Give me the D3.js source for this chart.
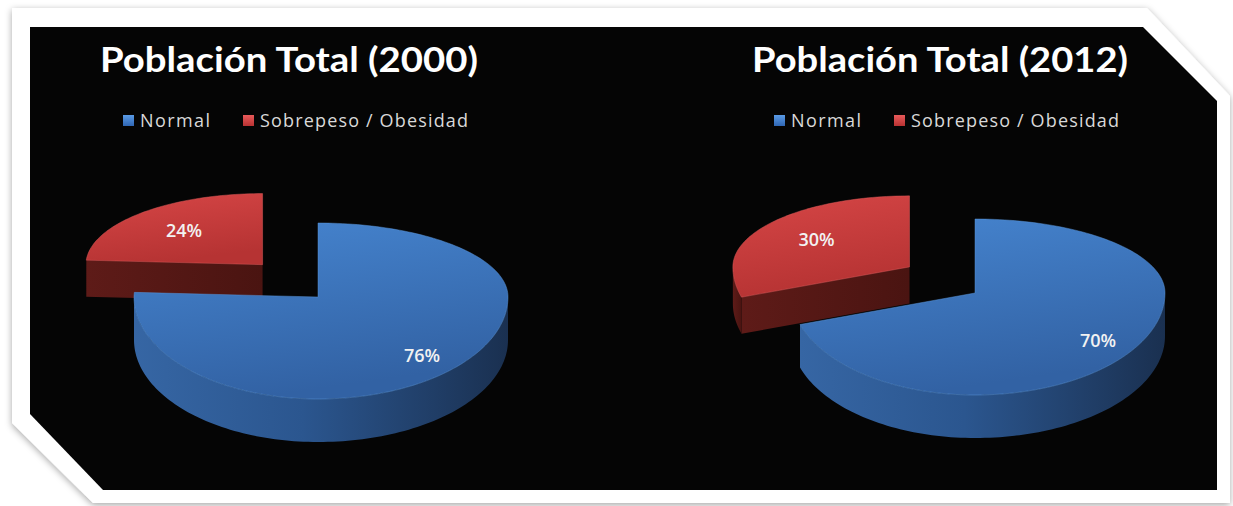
<!DOCTYPE html>
<html>
<head>
<meta charset="utf-8">
<script src="https://cdn.jsdelivr.net/npm/d3@7"></script>
<style>
  body { margin: 0; background: #ffffff; }
  svg { display: block; }
</style>
</head>
<body>
<svg id="chart" width="1233" height="506"></svg>
<script>
var categories = ["Normal", "Sobrepeso / Obesidad"];
var years = ["2000", "2012"];
var values2000 = [76, 24];
var values2012 = [70, 30];
var titleWidths = [378, 376];
var legendWidths = [70, 208];

//////////////////////////////////////////////////////////////////////////////

var svg = d3.select("#chart");
var defs = svg.append("defs");

var shadow = defs.append("filter").attr("id", "shadow")
  .attr("x", "-5%").attr("y", "-5%").attr("width", "110%").attr("height", "115%");
shadow.append("feDropShadow")
  .attr("dx", 0).attr("dy", 2)
  .attr("stdDeviation", 3.5)
  .attr("flood-color", "#000")
  .attr("flood-opacity", 0.35);

function addGradient(id, stops, x2, y2) {
  var g = defs.append("linearGradient").attr("id", id)
    .attr("x1", 0).attr("y1", 0).attr("x2", x2).attr("y2", y2);
  stops.forEach(function(s) {
    g.append("stop").attr("offset", s[0]).attr("stop-color", s[1]);
  });
}

addGradient("blueTop", [["0%", "#4685d0"], ["100%", "#3262a4"]], 0.3, 1);
addGradient("blueSide", [["0%", "#3666a4"], ["45%", "#2b568f"], ["100%", "#1a3050"]], 1, 0);
addGradient("redTop", [["0%", "#d64646"], ["100%", "#b63333"]], 0.3, 1);
addGradient("redSide", [["0%", "#5e1b18"], ["100%", "#4a1411"]], 1, 0);
addGradient("blueKey", [["0%", "#5a9be6"], ["100%", "#2f66b4"]], 0, 1);
addGradient("redKey", [["0%", "#e85a5a"], ["100%", "#b83232"]], 0, 1);

var fills = {
  top: ["url(#blueTop)", "url(#redTop)"],
  side: ["url(#blueSide)", "url(#redSide)"],
  key: ["url(#blueKey)", "url(#redKey)"]
};

// white frame + black panel
svg.append("polygon")
  .attr("points", [[12, 8], [1147, 8], [1230, 96], [1230, 503], [93, 503], [12, 423]].join(" "))
  .attr("fill", "#ffffff")
  .attr("filter", "url(#shadow)");

svg.append("polygon")
  .attr("points", [[30, 27], [1143, 27], [1217, 101], [1217, 490], [103, 490], [30, 414]].join(" "))
  .attr("fill", "#050505");

//////////////////////////////////////////////////////////////////////////////

var charts = [
  { values: values2000, title: 0, tx: 289, cx: 318, cy: 297 },
  { values: values2012, title: 1, tx: 940, cx: 975, cy: 293 }
];

var geo = { rxL: 184, rxR: 190, ryT: 74, ryB: 102, depth: 43, ex: 0.44, ey: 0.6 };
var labelRadius = [0.8, 0.65];
var explode = [0, 1];
// the pulled-out slice sits a bit further away, so it looks smaller
var farScale = { r: 0.96, depth: 0.85 };

function proj(c, a, r, z) {
  var s = Math.sin(a), k = Math.cos(a);
  return [c.cx + c.k * r * s * (s > 0 ? geo.rxR : geo.rxL),
          c.cy - c.k * r * k * (k > 0 ? geo.ryT : geo.ryB) + z];
}

function arcPts(c, a0, a1, z) {
  var n = Math.max(2, Math.ceil((a1 - a0) / (Math.PI / 120)));
  return d3.range(n + 1).map(function(i) {
    return proj(c, a0 + (a1 - a0) * i / n, 1, z);
  });
}

var line = d3.line();

function drawPie(chart) {
  var g = svg.append("g");
  var arcs = d3.pie().sort(null)(chart.values);

  // title
  g.append("text")
    .attr("x", chart.tx)
    .attr("y", 72)
    .attr("text-anchor", "middle")
    .attr("font-family", "Lato, 'Open Sans', sans-serif")
    .attr("font-weight", "bold")
    .attr("font-size", 35)
    .attr("fill", "#ffffff")
    .attr("textLength", titleWidths[chart.title])
    .attr("lengthAdjust", "spacingAndGlyphs")
    .text("Población Total (" + years[chart.title] + ")");

  // legend
  var keyX = [chart.tx - 166, chart.tx - 46];
  categories.forEach(function(name, i) {
    g.append("rect")
      .attr("x", keyX[i]).attr("y", 115)
      .attr("width", 11).attr("height", 11)
      .attr("fill", fills.key[i]);
    g.append("text")
      .attr("x", keyX[i] + 17)
      .attr("y", 127)
      .attr("font-family", "'Open Sans', sans-serif")
      .attr("font-size", 18)
      .attr("fill", "#d9d9d9")
      .attr("textLength", legendWidths[i])
      .attr("lengthAdjust", "spacing")
      .text(name);
  });

  // slices, back one first
  arcs.slice().reverse().forEach(function(d) {
    var i = d.index;
    var mid = (d.startAngle + d.endAngle) / 2;
    var off = [0, 0];
    if (explode[i]) {
      off = [Math.sin(mid) * geo.ex * (Math.sin(mid) > 0 ? geo.rxR : geo.rxL),
             -Math.cos(mid) * geo.ey * (Math.cos(mid) > 0 ? geo.ryT : geo.ryB)];
    }
    var c = { cx: chart.cx + off[0], cy: chart.cy + off[1], k: explode[i] ? farScale.r : 1 };
    var a0 = d.startAngle, a1 = d.endAngle;
    var h = geo.depth * (explode[i] ? farScale.depth : 1);
    var apex = [c.cx, c.cy], apexB = [c.cx, c.cy + h];

    // radial walls facing the viewer
    [[a0, a0 - Math.PI / 2], [a1, a1 + Math.PI / 2]].forEach(function(w) {
      if (Math.cos(w[1]) < -0.01) {
        var p = proj(c, w[0], 1, 0), q = proj(c, w[0], 1, h);
        g.append("path")
          .attr("d", line([apex, p, q, apexB]) + "Z")
          .attr("fill", fills.side[i]);
      }
    });

    // outer wall (front half)
    var lo = Math.max(a0, Math.PI / 2), hi = Math.min(a1, 3 * Math.PI / 2);
    if (lo < hi) {
      var pts = arcPts(c, lo, hi, 0).concat(arcPts(c, lo, hi, h).reverse());
      g.append("path")
        .attr("d", line(pts) + "Z")
        .attr("fill", fills.side[i]);
    }

    // top face
    g.append("path")
      .attr("d", line([apex].concat(arcPts(c, a0, a1, 0))) + "Z")
      .attr("fill", fills.top[i])
      .attr("stroke", i == 0 ? "#5b95da" : "#de5a5a")
      .attr("stroke-width", 0.8)
      .attr("stroke-opacity", 0.6);

    // percentage label
    var lp = proj(c, mid, labelRadius[i], 0);
    g.append("text")
      .attr("x", lp[0])
      .attr("y", lp[1] + 6)
      .attr("text-anchor", "middle")
      .attr("font-family", "'Open Sans', sans-serif")
      .attr("font-weight", 600)
      .attr("font-size", 18)
      .attr("fill", "#f2f2f2")
      .text(Math.round(d.data) + "%");
  });
}

charts.forEach(drawPie);
</script>
</body>
</html>
